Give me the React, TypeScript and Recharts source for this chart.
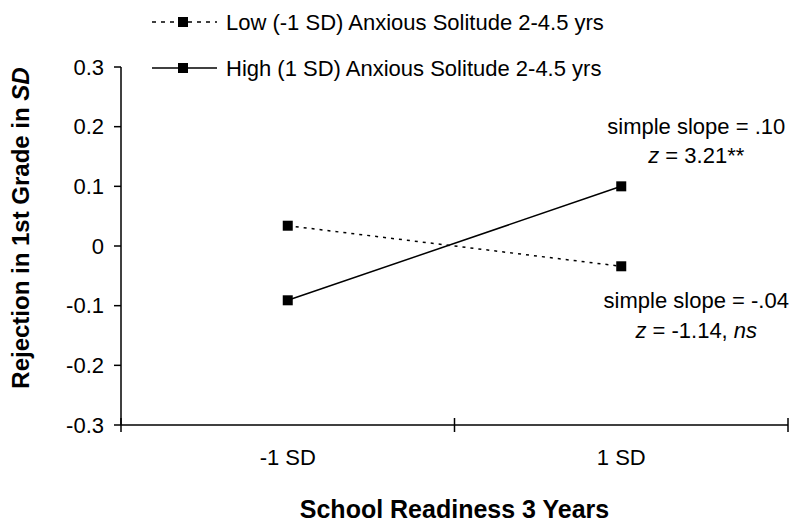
import { LineChart, Line, XAxis, YAxis, Label } from "recharts";

const categories = ["-1 SD", "1 SD"];
const lowSolitude = [0.034, -0.034];
const highSolitude = [-0.091, 0.1];
const yTicks = [-0.3, -0.2, -0.1, 0, 0.1, 0.2, 0.3];
const seriesNames = ["Low (-1 SD) Anxious Solitude 2-4.5 yrs", "High (1 SD) Anxious Solitude 2-4.5 yrs"];
const highNote = ["simple slope = .10", "3.21**"];
const lowNote = ["simple slope = -.04", "-1.14, "];

const data = categories.map((name, i) => ({
  name,
  pos: i + 0.5,
  low: lowSolitude[i],
  high: highSolitude[i],
}));

const font = "'Liberation Sans', Arial, sans-serif";
const xTicks = [0, 0.5, 1, 1.5, 2];
const fs = 22;

function SquareDot(props: any) {
  const { cx, cy } = props;
  if (cx == null || cy == null) return null;
  return <rect x={cx - 5} y={cy - 5} width={10} height={10} fill="#000" />;
}

function XTick(props: any) {
  const { x, y, payload } = props;
  const v = payload.value;
  if (Number.isInteger(v)) {
    return <line x1={x} x2={x} y1={y - 7} y2={y + 7} stroke="#000" strokeWidth={1.5} />;
  }
  return (
    <text x={x} y={y + 40} textAnchor="middle" fontSize={fs} fill="#000" fontFamily={font}>
      {categories[Math.floor(v)]}
    </text>
  );
}

function highLabel(props: any) {
  const { x, y, index } = props;
  if (index !== 1) return null;
  return (
    <g fontSize={fs} fill="#000" fontFamily={font}>
      <text x={x + 75} y={y - 52} textAnchor="middle">{highNote[0]}</text>
      <text x={x + 75} y={y - 23} textAnchor="middle">
        <tspan fontStyle="italic">z</tspan> = {highNote[1]}
      </text>
    </g>
  );
}

function lowLabel(props: any) {
  const { x, y, index } = props;
  if (index !== 1) return null;
  return (
    <g fontSize={fs} fill="#000" fontFamily={font}>
      <text x={x + 75} y={y + 42} textAnchor="middle">{lowNote[0]}</text>
      <text x={x + 75} y={y + 72} textAnchor="middle">
        <tspan fontStyle="italic">z</tspan> = {lowNote[1]}
        <tspan fontStyle="italic">ns</tspan>
      </text>
    </g>
  );
}

function LegendBox() {
  const rows = [
    { name: seriesNames[0], dash: "4 5", y: 22 },
    { name: seriesNames[1], dash: undefined, y: 68 },
  ];
  return (
    <svg width={700} height={90} style={{ position: "absolute", left: 0, top: 0 }}>
      {rows.map((r) => (
        <g key={r.name}>
          <line x1={152} x2={217} y1={r.y} y2={r.y} stroke="#000" strokeWidth={1.5} strokeDasharray={r.dash} />
          <rect x={178} y={r.y - 5} width={10} height={10} fill="#000" />
          <text x={226} y={r.y + 8} fontSize={fs} fontFamily={font} fill="#000">
            {r.name}
          </text>
        </g>
      ))}
    </svg>
  );
}

export default function App() {
  return (
    <div style={{ position: "absolute", left: 0, top: 0, width: 800, height: 530, background: "#fff" }}>
      <LineChart
        width={800}
        height={530}
        data={data}
        margin={{ top: 67, right: 12, left: 61, bottom: 75 }}
        style={{ fontFamily: font }}
      >
        <XAxis
          dataKey="pos"
          type="number"
          domain={[0, 2]}
          ticks={xTicks}
          interval={0}
          tickLine={false}
          tickSize={0}
          tickMargin={0}
          tick={<XTick />}
          height={30}
          axisLine={{ stroke: "#000", strokeWidth: 1.5 }}
        >
          <Label
            content={(p: any) => {
              const vb = p.viewBox;
              return (
                <text x={vb.x + vb.width / 2} y={vb.y + 93} textAnchor="middle" fontSize={25} fontWeight="bold" fontFamily={font} fill="#000">
                  School Readiness 3 Years
                </text>
              );
            }}
          />
        </XAxis>
        <YAxis
          type="number"
          domain={[-0.3, 0.3]}
          ticks={yTicks}
          interval={0}
          width={60}
          tickSize={7}
          tickMargin={10}
          tickFormatter={(v: number) => (v === 0 ? "0" : v.toFixed(1))}
          tick={{ fill: "#000", fontSize: fs, fontFamily: font }}
          tickLine={{ stroke: "#000", strokeWidth: 1.5 }}
          axisLine={{ stroke: "#000", strokeWidth: 1.5 }}
        >
          <Label
            content={(p: any) => {
              const vb = p.viewBox;
              const cx = vb.x - 41;
              const cy = vb.y + vb.height / 2 - 18;
              return (
                <text
                  x={cx}
                  y={cy}
                  transform={`rotate(-90 ${cx} ${cy})`}
                  textAnchor="middle"
                  dominantBaseline="central"
                  fontSize={24}
                  fontWeight="bold"
                  fontFamily={font}
                  fill="#000"
                >
                  Rejection in 1st Grade in  <tspan fontStyle="italic">SD</tspan>
                </text>
              );
            }}
          />
        </YAxis>
        <Line
          dataKey="low"
          stroke="#000"
          strokeWidth={1.5}
          strokeDasharray="3 5"
          dot={<SquareDot />}
          activeDot={false}
          label={lowLabel}
          isAnimationActive={false}
        />
        <Line
          dataKey="high"
          stroke="#000"
          strokeWidth={1.5}
          dot={<SquareDot />}
          activeDot={false}
          label={highLabel}
          isAnimationActive={false}
        />
      </LineChart>
      <LegendBox />
    </div>
  );
}
